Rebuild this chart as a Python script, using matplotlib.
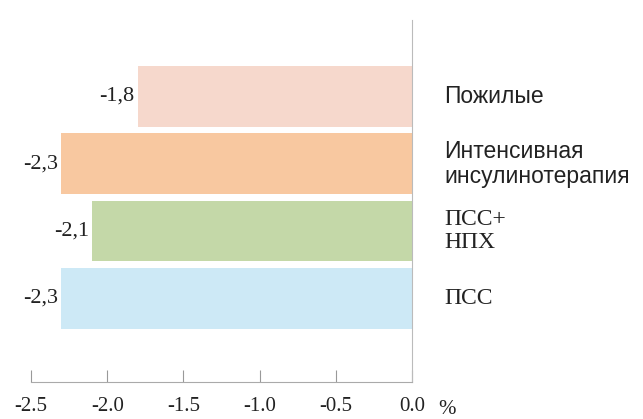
import numpy as np
import matplotlib
matplotlib.use("Agg")
import matplotlib.pyplot as plt

plt.rcParams['font.family'] = ['Liberation Serif', 'DejaVu Serif']

# снижение HbA1c по группам, %
groups = ["ПСС", "ПСС+\nНПХ", "Интенсивная\nинсулинотерапия", "Пожилые"]
values = [-2.3, -2.1, -2.3, -1.8]
colors = ["#cde9f6", "#c4d8a8", "#f8c8a0", "#f6d8cc"]
xticks = [-2.5, -2.0, -1.5, -1.0, -0.5, 0.0]

fig = plt.figure(figsize=(6.43, 4.19), dpi=100)
ax = fig.add_axes([31/643, 37/419, 381/643, 362/419])

pos = np.arange(len(groups))
ax.barh(pos, values, height=0.9, color=colors)

for y, v in zip(pos, values):
    ax.text(v - 0.02, y, ("%.1f" % v).replace(".", ","), ha="right", va="center",
            fontsize=16, color="#222222")

# подписи групп: аббревиатуры антиква, остальное гротеск
for y, g in zip(pos, groups):
    if g.startswith("ПСС"):
        ax.text(1.085, y, g, transform=ax.get_yaxis_transform(), ha="left", va="center",
                fontsize=17, color="#222222", linespacing=1.1)
    else:
        ax.text(1.085, y, g, transform=ax.get_yaxis_transform(), ha="left", va="center",
                fontsize=16.5, color="#222222", linespacing=1.12,
                family=["Liberation Sans", "DejaVu Sans"])

ax.text(1.07, -0.075, "%", transform=ax.transAxes, ha="left", va="center",
        fontsize=15, color="#222222")

ax.set_xlim(-2.5, 0)
ax.set_ylim(-1.24, 4.13)
ax.set_xticks(xticks)
ax.set_xticklabels(["%.1f" % t for t in xticks])
ax.set_yticks([])
ax.tick_params(axis="x", direction="in", length=9, color="#999999", pad=11,
               labelsize=15, labelcolor="#222222")

for s in ["left", "top"]:
    ax.spines[s].set_visible(False)
ax.spines["bottom"].set_color("#aaaaaa")
ax.spines["right"].set_color("#bbbbbb")
ax.spines["bottom"].set_linewidth(0.8)
ax.spines["right"].set_linewidth(0.8)

fig.savefig("out.png", dpi=100)
